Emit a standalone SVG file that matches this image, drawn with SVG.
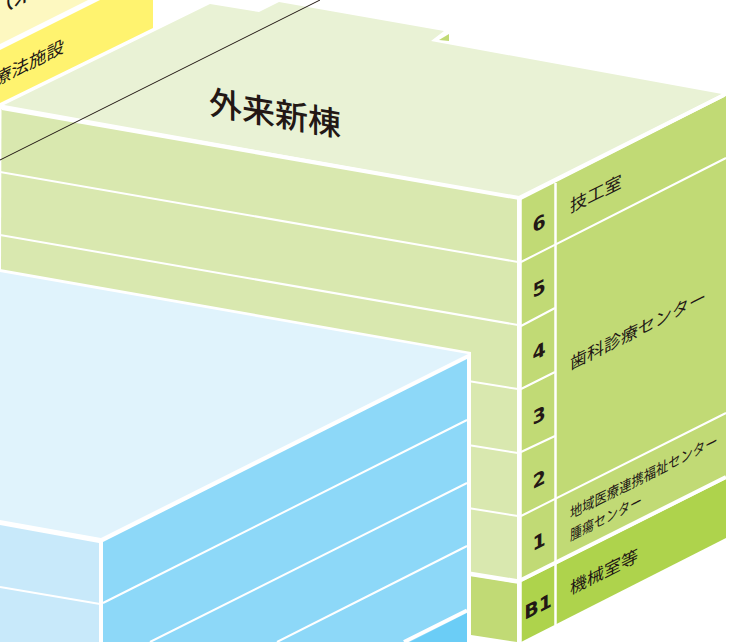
<svg xmlns="http://www.w3.org/2000/svg" width="732" height="642" viewBox="0 0 732 642">
<style>
.w{stroke:#fff;fill:none}
.t{font-family:"Noto Sans CJK JP","Noto Sans",sans-serif;fill:#231815}
.n{font-family:"DejaVu Sans","Liberation Sans",sans-serif;font-weight:700;font-size:19px;fill:#231815;text-anchor:middle}
</style>
<rect width="732" height="642" fill="#fff"/>
<g id="yellow-building">
<polygon points="0,0 88,0 0,44" fill="#fdf8c0"/>
<polygon points="0,50 100,0 153,0 153,28 0,103" fill="#fff36f"/>
<text class="t" font-size="17.5" transform="matrix(1,-0.5,0,1,-6,87)">療法施設</text>
<text class="t" font-size="21" font-weight="500" transform="matrix(1,-0.5,0,1,-7,17)">（米</text>
</g>
<g id="outpatient-building">
<polygon points="4,105 210,4 259,12 279,2 444,31 431,41 722,94 519,197" fill="#e9f2d5"/>
<polygon points="439,40 449,34 449,41" fill="#c1da75"/>
<polygon points="1.5,109 517,198 517,581 0,581" fill="#d9e8af"/>
<polygon points="471,576 517,583 517,642 471,635" fill="#c1da75"/>
<polygon points="521,200 726,96 726,477 521,580" fill="#c1da75"/>
<polygon points="521,582 726,479 726,538 521,642" fill="#aed34c"/>
<text class="t" font-size="33" font-weight="500" transform="matrix(1,0.172,0,1,209,114)">外来新棟</text>
<text class="t" font-size="17.3" transform="matrix(1,-0.5,0,1,570,213)">技工室</text>
<text class="t" font-size="17" transform="matrix(1,-0.5,0,1,570,370)">歯科診療センター</text>
<text class="t" font-size="12.3" transform="matrix(1,-0.5,0,1.2,570,519)">地域医療連携福祉センター</text>
<text class="t" font-size="12" transform="matrix(1,-0.5,0,1.2,570,541)">腫瘍センター</text>
<text class="t" font-size="17" transform="matrix(1,-0.5,0,1,570,595)">機械室等</text>
<text class="n" transform="matrix(1,-0.5,0,1,539,230)">6</text>
<text class="n" transform="matrix(1,-0.5,0,1,539,295)">5</text>
<text class="n" transform="matrix(1,-0.5,0,1,539,358)">4</text>
<text class="n" transform="matrix(1,-0.5,0,1,539,422)">3</text>
<text class="n" transform="matrix(1,-0.5,0,1,539,486)">2</text>
<text class="n" transform="matrix(1,-0.5,0,1,539,548)">1</text>
<text class="n" transform="matrix(1,-0.5,0,1,538,613)">B1</text>
</g>
<g id="connectors">
<path class="w" stroke-width="4" d="M2,108 L519,198 L724,95"/>
<path class="w" stroke-width="2" d="M0,172 L518,262M0,235 L518,325M468,381 L518,389M468,445 L518,453M468,508 L518,516"/>
<path class="w" stroke-width="4.5" d="M468,573.500 L518,581.500M519.500,198 V642"/>
<path class="w" stroke-width="2" d="M521,262 L726,158M521,326 L555,308M521,389 L555,372M521,452 L555,436M521,516 L726,413"/>
<path class="w" stroke-width="2.500" d="M555.500,183 V625"/>
<path class="w" stroke-width="4" d="M521,580 L726,477"/>
</g>
<g id="blue-building">
<polygon points="0,269 471,352 471,642 0,642" fill="#fff"/>
<polygon points="0,272 468,354 101,538 0,520" fill="#e0f3fc"/>
<polygon points="0,525 99,543 99,642 0,642" fill="#c8e9fa"/>
<polygon points="103,542 467,359 467,642 103,642" fill="#8dd8f8"/>
<polygon points="467,613 410,642 467,642" fill="#6bcdf6"/>
<path class="w" stroke-width="2" d="M103,603 L467,420M150,642 L467,483M277,642 L467,546M0,587 L100,604"/>
<path class="w" stroke-width="4" d="M467,610.500 L404,642"/>
</g>
<g id="section-line">
<path fill="none" stroke="#231815" stroke-width="1" d="M0,160 L320,0"/>
</g>
</svg>
